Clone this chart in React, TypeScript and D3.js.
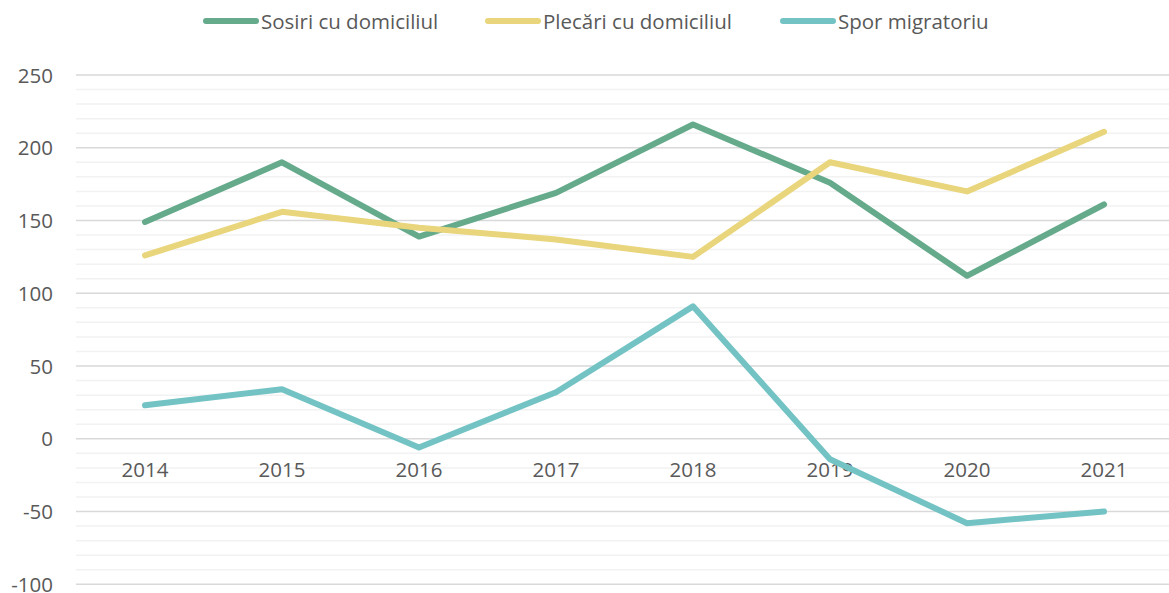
import React from "react";
import * as d3 from "d3";

const years = ["2014", "2015", "2016", "2017", "2018", "2019", "2020", "2021"];
const sosiri = [149, 190, 139, 169, 216, 176, 112, 161];
const plecari = [126, 156, 145, 137, 125, 190, 170, 211];
const spor = [23, 34, -6, 32, 91, -14, -58, -50];
const seriesNames = ["Sosiri cu domiciliul", "Plecări cu domiciliul", "Spor migratoriu"];
const seriesColors = ["#65AA8B", "#E9D57B", "#74C3C4"];
const yMajorTicks = [-100, -50, 0, 50, 100, 150, 200, 250];

const W = 1169;
const H = 593;
const FONT = "'Open Sans', Calibri, Carlito, sans-serif";
const TEXT = "#595959";

export default function App() {
  const x = d3.scaleBand<string>().domain(years).range([76.5, 1172.5]);
  const y = d3.scaleLinear().domain([-100, 250]).range([584.3, 75]);
  const cx = (d: string) => (x(d) ?? 0) + x.bandwidth() / 2;
  const minorTicks = d3.range(-100, 251, 10).filter((v) => v % 50 !== 0);
  const allSeries = [sosiri, plecari, spor];
  const line = d3
    .line<number>()
    .x((_, i) => cx(years[i]))
    .y((v) => y(v));

  const legendX = [203, 485, 780];

  return (
    <div style={{ position: "fixed", left: 0, top: 0, width: W, height: H, background: "#fff" }}>
      <svg width={W} height={H} style={{ display: "block" }} fontFamily={FONT}>
        <rect width={W} height={H} fill="#fff" />
        {minorTicks.map((t) => (
          <line key={"m" + t} x1={76} x2={W} y1={y(t)} y2={y(t)} stroke="#F2F2F2" strokeWidth={1.5} />
        ))}
        {yMajorTicks.map((t) => (
          <line key={"M" + t} x1={76} x2={W} y1={y(t)} y2={y(t)} stroke="#D9D9D9" strokeWidth={1.5} />
        ))}
        {yMajorTicks.map((t) => (
          <text key={"yl" + t} x={53} y={y(t) + 7.7} textAnchor="end" fontSize={20.5} fill={TEXT}>
            {t}
          </text>
        ))}
        {years.map((yr) => (
          <text key={"xl" + yr} x={cx(yr)} y={477} textAnchor="middle" fontSize={20.5} fill={TEXT}>
            {yr}
          </text>
        ))}
        {allSeries.map((s, i) => (
          <path
            key={"s" + i}
            d={line(s) ?? ""}
            fill="none"
            stroke={seriesColors[i]}
            strokeWidth={6}
            strokeLinecap="round"
            strokeLinejoin="round"
          />
        ))}
        {seriesNames.map((n, i) => (
          <g key={"lg" + i}>
            <line
              x1={legendX[i] + 3}
              x2={legendX[i] + 53}
              y1={21}
              y2={21}
              stroke={seriesColors[i]}
              strokeWidth={6}
              strokeLinecap="round"
            />
            <text x={legendX[i] + 58} y={28.5} fontSize={20.5} fill={TEXT}>
              {n}
            </text>
          </g>
        ))}
      </svg>
    </div>
  );
}
